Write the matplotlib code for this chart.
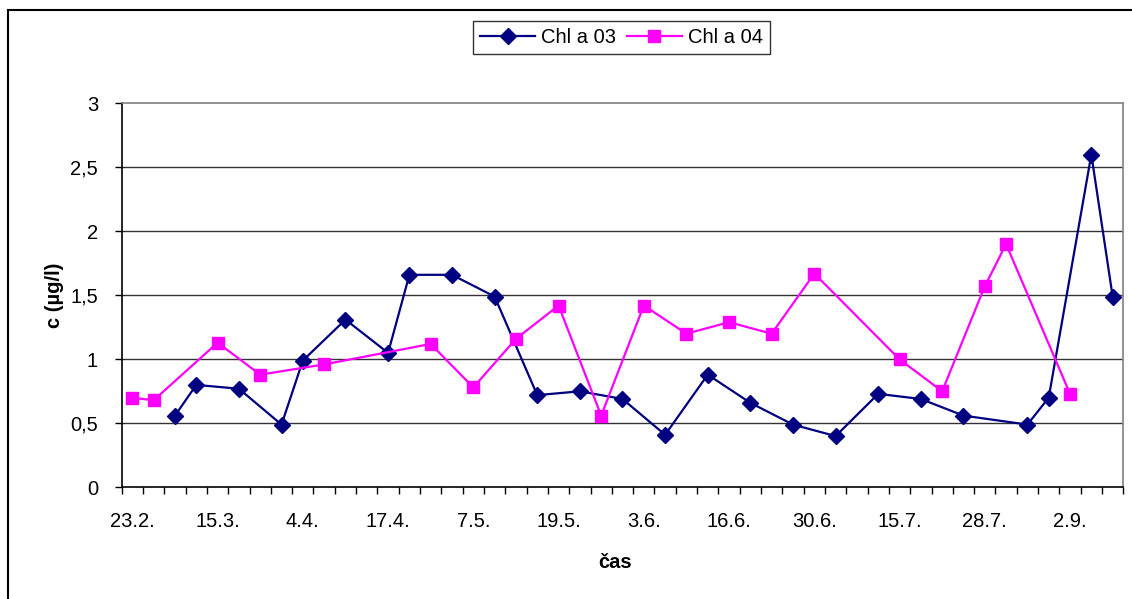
import numpy as np
import matplotlib
matplotlib.use("Agg")
import matplotlib.pyplot as plt
from matplotlib.patches import Rectangle
from matplotlib.ticker import FixedLocator, FuncFormatter

plt.rcParams['font.family'] = ['Liberation Sans', 'DejaVu Sans']

# 47 sampling dates on a category axis, only every 4th one is labelled
n_cats = 47
tick_labels = ['23.2.', '15.3.', '4.4.', '17.4.', '7.5.', '19.5.',
               '3.6.', '16.6.', '30.6.', '15.7.', '28.7.', '2.9.']

# Chl a 03 - category index and value
chl03_idx = [2, 3, 5, 7, 8, 10, 12, 13, 15, 17, 19, 21, 23, 25, 27, 29,
             31, 33, 35, 37, 39, 42, 43, 45, 46]
chl03 = [0.56, 0.80, 0.77, 0.49, 0.99, 1.31, 1.05, 1.66, 1.66, 1.49, 0.72,
         0.75, 0.69, 0.41, 0.88, 0.66, 0.49, 0.40, 0.73, 0.69, 0.56, 0.49,
         0.70, 2.60, 1.49]

# Chl a 04
chl04_idx = [0, 1, 4, 6, 9, 14, 16, 18, 20, 22, 24, 26, 28, 30, 32, 36,
             38, 40, 41, 44]
chl04 = [0.70, 0.68, 1.13, 0.88, 0.96, 1.12, 0.78, 1.16, 1.42, 0.56, 1.42,
         1.20, 1.29, 1.20, 1.67, 1.00, 0.75, 1.57, 1.90, 0.73]

W, H = 1132, 599
fig = plt.figure(figsize=(W / 100, H / 100), dpi=100)
fig.patch.set_facecolor('white')

# outer chart border (cut off at right and bottom)
fig.patches.append(Rectangle((7.5 / W, -0.1), 1.2, 1.1 - 10.5 / H,
                             transform=fig.transFigure, fill=False,
                             edgecolor='black', linewidth=1.5))

ax = fig.add_axes([121.7 / W, 1 - 487.3 / H, (1123.3 - 121.7) / W, (487.3 - 103.3) / H])

fs = 14.5
l1, = ax.plot(chl03_idx, chl03, color='#000080', linewidth=1.6, marker='D',
              markersize=8.5, label='Chl a 03', zorder=3)
l2, = ax.plot(chl04_idx, chl04, color='#FF00FF', linewidth=1.6, marker='s',
              markersize=8.5, label='Chl a 04', zorder=3)

ax.set_xlim(-0.5, n_cats - 0.5)
ax.set_ylim(0, 3)

ax.set_yticks(np.arange(0, 3.01, 0.5))
ax.yaxis.set_major_formatter(FuncFormatter(lambda v, p: ('%g' % v).replace('.', ',')))
ax.tick_params(axis='y', direction='out', length=5, width=1, pad=12,
               labelsize=fs, color='black')

ax.set_xticks(np.arange(0, n_cats, 4))
ax.set_xticklabels(tick_labels)
ax.xaxis.set_minor_locator(FixedLocator(np.arange(-0.5, n_cats, 1)))
ax.tick_params(axis='x', which='major', length=0, pad=18, labelsize=fs)
ax.tick_params(axis='x', which='minor', direction='out', length=5, width=1,
               color='black')

for v in [0.5, 1, 1.5, 2, 2.5]:
    ax.axhline(v, color='#333333', linewidth=1, zorder=1)

ax.spines['left'].set_color('black')
ax.spines['bottom'].set_color('black')
ax.spines['top'].set_color('#808080')
ax.spines['right'].set_color('#808080')
for s in ax.spines.values():
    s.set_linewidth(1.2)

fig.text(54 / W, 1 - 295 / H, 'c (µg/l)', rotation=90, ha='center', va='center',
         fontsize=fs, fontweight='bold')
fig.text(615 / W, 1 - 562 / H, 'čas', ha='center', va='center',
         fontsize=fs, fontweight='bold')

leg = fig.legend(handles=[l1, l2], loc='center', ncol=2,
                 bbox_to_anchor=(621.5 / W, 1 - 37.9 / H), fontsize=fs,
                 frameon=True, fancybox=False, handlelength=2.75,
                 handletextpad=0.3, columnspacing=0.5, borderpad=0.35,
                 borderaxespad=0)
leg.get_frame().set_edgecolor('black')
leg.get_frame().set_linewidth(1)

fig.savefig('out.png', dpi=100)
